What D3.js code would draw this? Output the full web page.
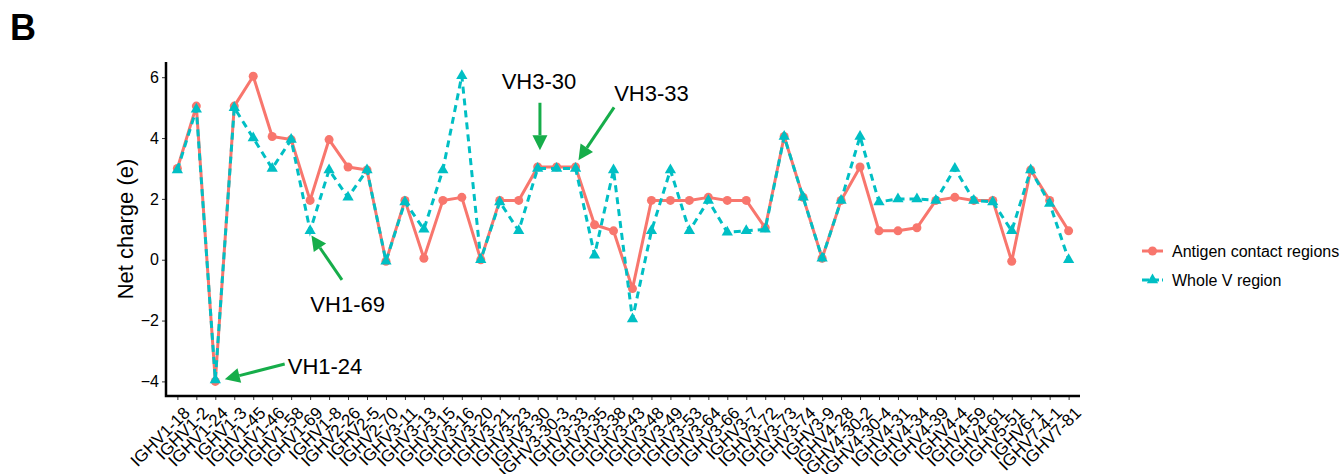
<!DOCTYPE html>
<html>
<head>
<meta charset="utf-8">
<script src="https://cdn.jsdelivr.net/npm/d3@7"></script>
<style>
  body { margin: 0; background: #fff; }
  text { font-family: "Liberation Sans", Arial, Helvetica, sans-serif; }
</style>
</head>
<body>
<div id="chart"></div>
<script>
const genes = [
  "IGHV1-18", "IGHV1-2", "IGHV1-24", "IGHV1-3", "IGHV1-45", "IGHV1-46", "IGHV1-58", "IGHV1-69",
  "IGHV1-8", "IGHV2-26", "IGHV2-5", "IGHV2-70", "IGHV3-11", "IGHV3-13", "IGHV3-15", "IGHV3-16",
  "IGHV3-20", "IGHV3-21", "IGHV3-23", "IGHV3-30", "IGHV3-30-3", "IGHV3-33", "IGHV3-35", "IGHV3-38",
  "IGHV3-43", "IGHV3-48", "IGHV3-49", "IGHV3-53", "IGHV3-64", "IGHV3-66", "IGHV3-7", "IGHV3-72",
  "IGHV3-73", "IGHV3-74", "IGHV3-9", "IGHV4-28", "IGHV4-30-2", "IGHV4-30-4", "IGHV4-31", "IGHV4-34",
  "IGHV4-39", "IGHV4-4", "IGHV4-59", "IGHV4-61", "IGHV5-51", "IGHV6-1", "IGHV7-4-1", "IGHV7-81"
];

const antigenContact = [
  3, 5.05, -4, 5.05, 6.03, 4.05, 3.95, 1.95, 3.95, 3.05, 2.95, -0.05,
  1.95, 0.05, 1.95, 2.05, 0, 1.95, 1.95, 3.05, 3.05, 3.05, 1.15, 0.95,
  -0.95, 1.95, 1.95, 1.95, 2.05, 1.95, 1.95, 1.05, 4.05, 2.05, 0.05, 1.95,
  3.05, 0.95, 0.95, 1.05, 1.95, 2.05, 1.95, 1.95, -0.05, 2.95, 1.95, 0.95
];

const wholeV = [
  2.95, 4.95, -3.95, 5, 4, 3, 3.95, 0.95, 2.95, 2.05, 2.95, -0.05,
  1.9, 1.0, 2.95, 6.05, 0, 1.9, 0.95, 3, 3, 3, 0.15, 2.95,
  -1.95, 0.95, 2.95, 0.95, 1.95, 0.9, 0.95, 1.0, 4.05, 2.05, 0.05, 1.95,
  4.05, 1.9, 2.0, 2.0, 1.95, 3.0, 1.95, 1.9, 0.95, 2.95, 1.85, 0.0
];

const yTicks = [-4, -2, 0, 2, 4, 6];
const seriesNames = ["Antigen contact regions", "Whole V region"];

// annotations: label, text position (gene index, value), arrow tail, arrow tip
const annotations = [
  { label: "VH1-24", tx: 5.82, ty: -3.5, anchor: "start", from: [5.66, -3.43], to: [2.5, -3.93] },
  { label: "VH1-69", tx: 8.98, ty: -1.46, anchor: "middle", from: [8.68, -0.66], to: [7.07, 0.8] },
  { label: "VH3-30", tx: 19.07, ty: 5.85, anchor: "middle", from: [19.12, 5.16], to: [19.12, 3.6] },
  { label: "VH3-33", tx: 25.0, ty: 5.47, anchor: "middle", from: [23.03, 5.01], to: [21.15, 3.27] }
];

const width = 1343;
const height = 474;
const margin = { left: 166, right: 263, top: 62, bottom: 78 };
const red = "#F8766D";
const teal = "#00BFC4";
const green = "#16ad4a";

const svg = d3.select("#chart")
  .append("svg")
  .attr("width", width)
  .attr("height", height);

const x = d3.scalePoint()
  .domain(genes)
  .range([margin.left, width - margin.right])
  .padding(0.6);

const y = d3.scaleLinear()
  .domain([-4.48, 6.5])
  .range([height - margin.bottom, margin.top]);

const xi = i => x(genes[0]) + i * x.step();

// panel label
svg.append("text")
  .attr("x", 10)
  .attr("y", 40)
  .style("font-size", "36px")
  .style("font-weight", "bold")
  .text("B");

// ========= AXES =========
const xAxis = svg.append("g")
  .attr("transform", `translate(0, ${height - margin.bottom})`)
  .call(d3.axisBottom(x).tickSize(4).tickSizeOuter(0));
xAxis.select(".domain").remove();
xAxis.selectAll(".tick line").attr("stroke", "#333").attr("stroke-width", 1);
xAxis.selectAll(".tick text")
  .attr("transform", "translate(4, 9) rotate(-45)")
  .attr("text-anchor", "end")
  .attr("x", 0)
  .attr("y", 0)
  .attr("dy", "0.75em")
  .style("font-size", "17px")
  .attr("fill", "#000");

const yAxis = svg.append("g")
  .attr("transform", `translate(${margin.left}, 0)`)
  .call(d3.axisLeft(y).tickValues(yTicks).tickSize(4).tickPadding(3)
    .tickFormat(d => d < 0 ? "\u2212" + Math.abs(d) : d));
yAxis.select(".domain").remove();
yAxis.selectAll(".tick line").attr("stroke", "#333").attr("stroke-width", 1);
yAxis.selectAll(".tick text").style("font-size", "16px").attr("fill", "#000");

svg.append("path")
  .attr("d", `M${margin.left},${margin.top}V${height - margin.bottom}H${width - margin.right}`)
  .attr("fill", "none")
  .attr("stroke", "#000")
  .attr("stroke-width", 2.5);

svg.append("text")
  .attr("transform", `translate(125, ${(margin.top + height - margin.bottom) / 2}) rotate(-90)`)
  .attr("text-anchor", "middle")
  .attr("dominant-baseline", "central")
  .style("font-size", "22px")
  .text("Net charge (e)");

// ========= LINES =========
const line = d3.line()
  .x((d, i) => x(genes[i]))
  .y(d => y(d));

svg.append("path")
  .datum(antigenContact)
  .attr("d", line)
  .attr("fill", "none")
  .attr("stroke", red)
  .attr("stroke-width", 3)
  .attr("stroke-linejoin", "round");

svg.selectAll(".pt-red")
  .data(antigenContact)
  .enter()
  .append("circle")
  .attr("class", "pt-red")
  .attr("cx", (d, i) => x(genes[i]))
  .attr("cy", d => y(d))
  .attr("r", 4.5)
  .attr("fill", red);

svg.append("path")
  .datum(wholeV)
  .attr("d", line)
  .attr("fill", "none")
  .attr("stroke", teal)
  .attr("stroke-width", 3)
  .attr("stroke-dasharray", "7,5");

const tri = d3.symbol().type(d3.symbolTriangle).size(55);
svg.selectAll(".pt-teal")
  .data(wholeV)
  .enter()
  .append("path")
  .attr("class", "pt-teal")
  .attr("d", tri)
  .attr("transform", (d, i) => `translate(${x(genes[i])}, ${y(d)})`)
  .attr("fill", teal);

// ========= ANNOTATIONS =========
function arrow(x1, y1, x2, y2) {
  const ang = Math.atan2(y2 - y1, x2 - x1);
  const headLen = 15, headW = 7.5;
  const bx = x2 - headLen * Math.cos(ang), by = y2 - headLen * Math.sin(ang);
  svg.append("line")
    .attr("x1", x1).attr("y1", y1).attr("x2", bx).attr("y2", by)
    .attr("stroke", green).attr("stroke-width", 3);
  const px = -Math.sin(ang) * headW, py = Math.cos(ang) * headW;
  svg.append("path")
    .attr("d", `M${x2},${y2}L${bx + px},${by + py}L${bx - px},${by - py}Z`)
    .attr("fill", green);
}

annotations.forEach(a => {
  arrow(xi(a.from[0]), y(a.from[1]), xi(a.to[0]), y(a.to[1]));
  svg.append("text")
    .attr("x", xi(a.tx))
    .attr("y", y(a.ty))
    .attr("text-anchor", a.anchor)
    .attr("dominant-baseline", "central")
    .style("font-size", "22px")
    .text(a.label);
});

// ========= LEGEND =========
const legend = svg.append("g").attr("transform", "translate(1142, 251)");
seriesNames.forEach((name, i) => {
  const g = legend.append("g").attr("transform", `translate(0, ${i * 29})`);
  g.append("line")
    .attr("x1", 0).attr("x2", 21).attr("y1", 0).attr("y2", 0)
    .attr("stroke", i === 0 ? red : teal)
    .attr("stroke-width", 3)
    .attr("stroke-dasharray", i === 0 ? null : "7,3");
  if (i === 0) {
    g.append("circle").attr("cx", 10.5).attr("cy", 0).attr("r", 4.5).attr("fill", red);
  } else {
    g.append("path").attr("d", tri).attr("transform", "translate(10.5, 0)").attr("fill", teal);
  }
  g.append("text")
    .attr("x", 30)
    .attr("y", 0)
    .attr("dominant-baseline", "central")
    .style("font-size", "16px")
    .text(name);
});
</script>
</body>
</html>
